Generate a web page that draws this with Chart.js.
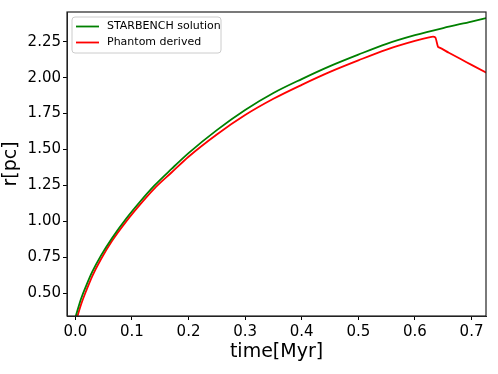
<!DOCTYPE html>
<html>
<head>
<meta charset="utf-8">
<script src="https://cdn.jsdelivr.net/npm/chart.js@4.4.0/dist/chart.umd.min.js"></script>
<style>
  html, body { margin: 0; padding: 0; background: #fff; }
  #wrap { width: 498px; height: 374px; }
</style>
</head>
<body>
<div id="wrap"><canvas id="shellChart" width="498" height="374"></canvas></div>
<script>
// values
const starbenchTime = [0, 0.01, 0.02, 0.03, 0.045, 0.065, 0.09, 0.115, 0.14, 0.17, 0.2, 0.25, 0.3, 0.35, 0.4, 0.45, 0.5, 0.55, 0.6, 0.65, 0.7, 0.73];
const starbenchRadius = [0.33, 0.46, 0.56, 0.65, 0.76, 0.885, 1.02, 1.14, 1.25, 1.365, 1.475, 1.635, 1.775, 1.893, 1.99, 2.08, 2.16, 2.235, 2.295, 2.345, 2.39, 2.418];

const phantomTime = [0, 0.01, 0.02, 0.03, 0.045, 0.065, 0.09, 0.115, 0.14, 0.17, 0.2, 0.25, 0.3, 0.35, 0.4, 0.45, 0.5, 0.55, 0.6, 0.625, 0.632, 0.636, 0.641, 0.6425, 0.66, 0.68, 0.7, 0.73];
const phantomRadius = [0.29, 0.42, 0.525, 0.62, 0.735, 0.865, 1.0, 1.12, 1.23, 1.34, 1.45, 1.605, 1.74, 1.853, 1.95, 2.04, 2.12, 2.195, 2.255, 2.28, 2.285, 2.28, 2.213, 2.21, 2.173, 2.131, 2.089, 2.026];

const seriesLabels = ['STARBENCH solution', 'Phantom derived'];
const xTicks = [0.0, 0.1, 0.2, 0.3, 0.4, 0.5, 0.6, 0.7];
const yTicks = [0.5, 0.75, 1.0, 1.25, 1.5, 1.75, 2.0, 2.25];

const toPoints = (xs, ys) => xs.map((x, i) => ({ x: x, y: ys[i] }));

// matplotlib-like box around the axes
const frame = {
    id: 'frame',
    afterDatasetsDraw(chart) {
        const a = chart.chartArea;
        const ctx = chart.ctx;
        ctx.save();
        ctx.strokeStyle = '#222';
        ctx.lineWidth = 1.2;
        ctx.strokeRect(a.left, a.top, a.right - a.left, a.bottom - a.top);
        ctx.restore();
    }
};

// legend box in the upper left corner of the plot
const boxLegend = {
    id: 'boxLegend',
    afterDraw(chart) {
        const ctx = chart.ctx;
        const x = 72, y = 17, w = 149, h = 36, r = 3;
        ctx.save();
        ctx.beginPath();
        ctx.moveTo(x + r, y);
        ctx.arcTo(x + w, y, x + w, y + h, r);
        ctx.arcTo(x + w, y + h, x, y + h, r);
        ctx.arcTo(x, y + h, x, y, r);
        ctx.arcTo(x, y, x + w, y, r);
        ctx.closePath();
        ctx.fillStyle = 'rgba(255,255,255,0.8)';
        ctx.fill();
        ctx.strokeStyle = '#cccccc';
        ctx.lineWidth = 1;
        ctx.stroke();
        chart.data.datasets.forEach((ds, i) => {
            const cy = 26.5 + i * 16;
            ctx.strokeStyle = ds.borderColor;
            ctx.lineWidth = 1.8;
            ctx.beginPath();
            ctx.moveTo(76, cy);
            ctx.lineTo(99, cy);
            ctx.stroke();
            ctx.fillStyle = '#000';
            ctx.font = '11px "DejaVu Sans"';
            ctx.textBaseline = 'middle';
            ctx.fillText(ds.label, 107, cy);
        });
        ctx.restore();
    }
};

const tickFont = { family: 'DejaVu Sans', size: 15 };
const titleFont = { family: 'DejaVu Sans', size: 19 };

new Chart(document.getElementById('shellChart'), {
    type: 'line',
    data: {
        datasets: [{
            label: seriesLabels[0],
            data: toPoints(starbenchTime, starbenchRadius),
            borderColor: '#008000',
            borderWidth: 1.8,
            pointRadius: 0,
            cubicInterpolationMode: 'monotone',
            clip: 0
        }, {
            label: seriesLabels[1],
            data: toPoints(phantomTime, phantomRadius),
            borderColor: '#ff0000',
            borderWidth: 1.8,
            pointRadius: 0,
            cubicInterpolationMode: 'monotone',
            clip: 0
        }]
    },
    options: {
        responsive: false,
        animation: false,
        devicePixelRatio: 1,
        layout: { padding: { top: 12, right: 12, left: 0, bottom: 0 } },
        plugins: {
            legend: { display: false },
            tooltip: { enabled: false }
        },
        scales: {
            x: {
                type: 'linear',
                min: -0.0147,
                max: 0.7256,
                afterBuildTicks: s => { s.ticks = xTicks.map(v => ({ value: v })); },
                afterFit: s => { s.height = 58; },
                grid: { drawOnChartArea: false, drawTicks: true, tickLength: 4, tickColor: '#000' },
                border: { display: true, color: '#222' },
                ticks: {
                    color: '#000', font: tickFont, padding: 3, maxRotation: 0, autoSkip: false,
                    callback: v => v.toFixed(1)
                },
                title: { display: true, text: 'time[Myr]', color: '#000', font: titleFont, padding: { top: 0, bottom: 11 } }
            },
            y: {
                type: 'linear',
                min: 0.342,
                max: 2.4565,
                afterBuildTicks: s => { s.ticks = yTicks.map(v => ({ value: v })); },
                afterFit: s => { s.width = 67; },
                grid: { drawOnChartArea: false, drawTicks: true, tickLength: 4, tickColor: '#000' },
                border: { display: true, color: '#222' },
                ticks: {
                    color: '#000', font: tickFont, padding: 2,
                    callback: v => v.toFixed(2)
                },
                title: { display: true, text: 'r[pc]', color: '#000', font: titleFont, padding: { top: 0, bottom: 0 } }
            }
        }
    },
    plugins: [frame, boxLegend]
});
</script>
</body>
</html>
